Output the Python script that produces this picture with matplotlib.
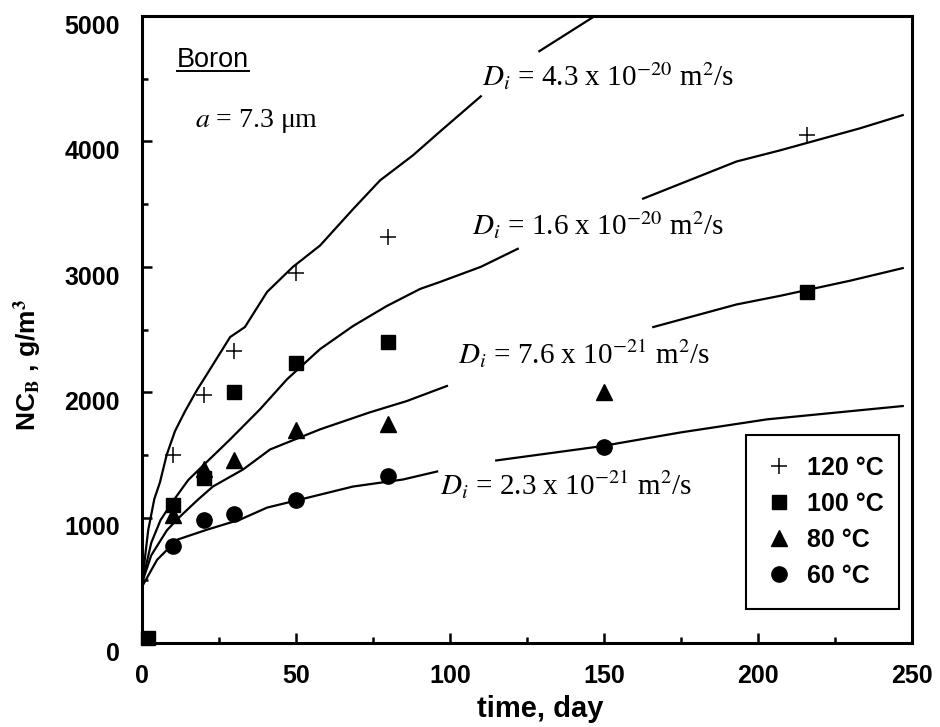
import matplotlib
matplotlib.use("Agg")
import matplotlib.pyplot as plt
import matplotlib.transforms as mtransforms
from matplotlib.lines import Line2D
import numpy as np

plt.rcParams["font.family"] = ["Liberation Sans", "DejaVu Sans"]
plt.rcParams["mathtext.fontset"] = "stix"

# measured boron uptake, NC_B (g/m3) vs time (day)
t_120 = [10, 20, 30, 50, 80, 216]
nc_120 = [1500, 1980, 2330, 2950, 3240, 4050]
t_100 = [2, 10, 20, 30, 50, 80, 216]
nc_100 = [40, 1100, 1320, 2000, 2230, 2400, 2800]
t_80 = [10, 20, 30, 50, 80, 150]
nc_80 = [1020, 1390, 1460, 1700, 1750, 2000]
t_60 = [10, 20, 30, 50, 80, 150]
nc_60 = [770, 980, 1030, 1140, 1330, 1560]

# diffusion model curves, nan marks the break left for the label
t_d43 = [0, 2, 4, 5.8, 8, 10.7, 14, 17.9, 22, 28.6, 33.4, 40.6, 49, 57.8,
         68.5, 77.3, 88, 96.8, 110, np.nan, 129, 147, 152]
nc_d43 = [480, 900, 1150, 1280, 1500, 1690, 1850, 2020, 2180, 2440, 2520,
          2800, 3000, 3170, 3460, 3690, 3890, 4080, 4360, np.nan, 4720, 5000,
          5060]
t_d16 = [0, 3, 6, 10, 15, 20, 28.6, 38.3, 47.1, 57.8, 68.5, 79.5, 90.3,
         96.8, 110, 122, np.nan, 162.7, 193, 207, 233, 247]
nc_d16 = [480, 800, 980, 1130, 1300, 1420, 1624, 1864, 2104, 2344, 2528,
          2688, 2824, 2880, 3000, 3144, np.nan, 3544, 3840, 3928, 4104, 4210]
t_d76 = [0, 3, 8.1, 12.3, 18, 23, 32.8, 41.6, 57.8, 74, 86, 99, np.nan,
         166, 193, 207, 230, 247]
nc_d76 = [480, 700, 900, 1008, 1140, 1248, 1384, 1544, 1704, 1840, 1930,
          2050, np.nan, 2520, 2700, 2768, 2890, 2990]
t_d23 = [0, 4.9, 11.4, 21.1, 31.8, 40.6, 51.3, 68.5, 84.7, 95.8, np.nan,
         115, 148.7, 175, 203, 247]
nc_d23 = [450, 664, 824, 904, 984, 1080, 1144, 1248, 1304, 1368, np.nan,
          1456, 1568, 1680, 1784, 1890]

curve_labels = [
    r"$D_i$ = 4.3 x 10$^{-20}$ m$^2$/s",
    r"$D_i$ = 1.6 x 10$^{-20}$ m$^2$/s",
    r"$D_i$ = 7.6 x 10$^{-21}$ m$^2$/s",
    r"$D_i$ = 2.3 x 10$^{-21}$ m$^2$/s",
]
label_pos = [(110.4, 4522), (107.1, 3328), (102.6, 2309), (96.8, 1258)]

fig = plt.figure(figsize=(9.4, 7.27), dpi=100)
ax = fig.add_axes([0.1511, 0.1155, 0.8191, 0.8624])

for t, nc in [(t_d43, nc_d43), (t_d16, nc_d16), (t_d76, nc_d76),
              (t_d23, nc_d23)]:
    ax.plot(t, nc, color="black", lw=1.6, zorder=2)

ax.plot(t_120, nc_120, linestyle="None", marker="+", ms=12, mew=1.1,
        color="black", zorder=3)
ax.plot(t_100, nc_100, linestyle="None", marker="s", ms=9.5,
        color="black", zorder=3, clip_on=False)
ax.plot(t_80, nc_80, linestyle="None", marker="^", ms=11.5,
        color="black", zorder=3)
ax.plot(t_60, nc_60, linestyle="None", marker="o", ms=11,
        color="black", zorder=3)

for txt, (x, y) in zip(curve_labels, label_pos):
    ax.text(x, y, txt, ha="left", va="center", fontsize=21,
            family="Liberation Serif")

boron = ax.text(11.4, 4650, "Boron", ha="left", va="center", fontsize=19.5)
ax.text(17.2, 4160, r"$a$ = 7.3 μm", ha="left", va="center", fontsize=20,
        family="Liberation Serif")

ax.set_xlim(0, 250)
ax.set_ylim(0, 5000)
ax.set_xticks(np.arange(0, 251, 50))
ax.set_xticks(np.arange(25, 250, 50), minor=True)
ax.set_yticks(np.arange(0, 5001, 1000))
ax.set_yticks(np.arange(500, 5000, 1000), minor=True)
ax.tick_params(which="both", direction="in", width=1.8)
ax.tick_params(which="major", length=7)
ax.tick_params(which="minor", length=4)
ax.tick_params(axis="x", pad=15, labelsize=18)
ax.tick_params(axis="y", pad=16, labelsize=18)
ytick_shift = mtransforms.ScaledTranslation(0, -6 / 72, fig.dpi_scale_trans)
for lab in ax.get_xticklabels() + ax.get_yticklabels():
    lab.set_fontweight("bold")
for lab in ax.get_yticklabels():
    lab.set_transform(lab.get_transform() + ytick_shift)
for spine in ax.spines.values():
    spine.set_linewidth(2.2)

ax.set_xlabel("time, day", fontsize=21, fontweight="bold")
ax.xaxis.label.set_va("center")
ax.xaxis.set_label_coords(0.517, -0.105)
ax.set_ylabel(r"NC$_\mathbf{B}$ , g/m$^\mathbf{3}$", fontsize=19,
              fontweight="bold")
ax.yaxis.label.set_va("center")
ax.yaxis.set_label_coords(-0.148, 0.443)

handles = [
    Line2D([], [], linestyle="None", marker="+", ms=12, mew=1.1, color="black"),
    Line2D([], [], linestyle="None", marker="s", ms=9.5, color="black"),
    Line2D([], [], linestyle="None", marker="^", ms=11.5, color="black"),
    Line2D([], [], linestyle="None", marker="o", ms=11, color="black"),
]
leg = ax.legend(handles, ["120 °C", "100 °C", "80 °C", "60 °C"],
                loc="upper left", bbox_to_anchor=(0.784, 0.046, 0.199, 0.286),
                mode="expand", borderaxespad=0, fancybox=False, framealpha=1,
                edgecolor="black", handlelength=1.0, handletextpad=0.6,
                labelspacing=0.48, borderpad=0.85,
                prop={"weight": "bold", "size": 18})
leg.get_frame().set_linewidth(1.5)

# underline for the "Boron" heading
fig.canvas.draw()
bb = boron.get_window_extent()
inv = fig.transFigure.inverted()
(x0, y0), (x1, _) = inv.transform([(bb.x0, bb.y0), (bb.x1, bb.y0)])
fig.add_artist(Line2D([x0, x1], [y0 + 0.003, y0 + 0.003], color="black",
                      lw=1.4, transform=fig.transFigure))

fig.savefig("out.png", dpi=100)
